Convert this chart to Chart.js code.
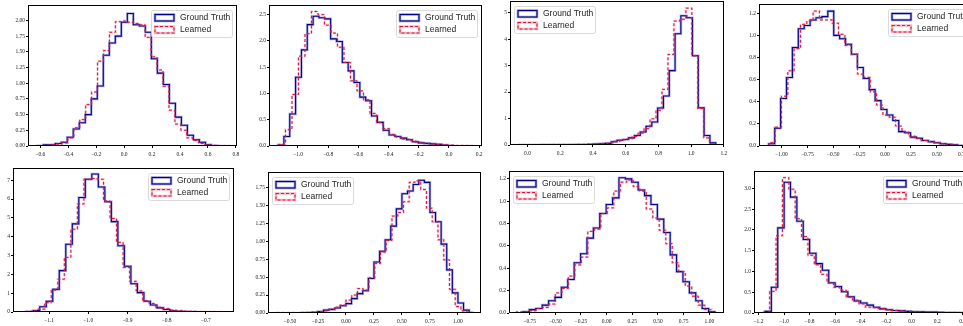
<!DOCTYPE html>
<html>
<head>
<meta charset="utf-8">
<script src="https://cdn.jsdelivr.net/npm/chart.js@4"></script>
<style>
  html, body { margin: 0; padding: 0; background: #fff; width: 963px; height: 326px; overflow: hidden; }
  canvas { position: absolute; }
</style>
</head>
<body>
<canvas id="c1" width="231" height="156" style="left:12px;top:2px"></canvas>
<canvas id="c2" width="235" height="156" style="left:253px;top:2px"></canvas>
<canvas id="c3" width="236" height="159" style="left:494px;top:-2px"></canvas>
<canvas id="c4" width="237" height="157" style="left:743px;top:1px"></canvas>
<canvas id="c5" width="243" height="159" style="left:-3px;top:165px"></canvas>
<canvas id="c6" width="235" height="156" style="left:252px;top:169px"></canvas>
<canvas id="c7" width="237" height="157" style="left:493px;top:168px"></canvas>
<canvas id="c8" width="237" height="157" style="left:738px;top:168px"></canvas>
<script>
// histogram data: [first edge, last edge] and bin heights (equal-width bins)
const gtRange1 = [-0.622, 0.668];
const gtVals1 = [0.005,0.02,0.02,0.04,0.06,0.14,0.27,0.37,0.50,0.75,0.955,1.445,1.64,1.75,1.97,2.11,1.93,1.91,1.81,1.39,1.16,0.98,0.68,0.46,0.33,0.17,0.10,0.06,0.02,0.005];
const lrRange1 = [-0.616, 0.747];
const lrVals1 = [0.0,0.01,0.02,0.03,0.05,0.13,0.29,0.42,0.66,0.86,1.35,1.52,1.81,1.98,1.99,1.97,1.95,1.93,1.73,1.42,1.21,0.95,0.57,0.35,0.25,0.13,0.09,0.04,0.02,0.01,0.005,0.003];

const gtRange2 = [-1.132, 0.029];
const gtVals2 = [0.02,0.18,0.61,1.31,1.83,2.31,2.47,2.44,2.42,2.04,1.99,1.59,1.43,1.21,0.93,0.86,0.57,0.45,0.30,0.21,0.18,0.15,0.12,0.08,0.06,0.05,0.04,0.03,0.02,0.01];
const lrRange2 = [-1.126, 0.166];
const lrVals2 = [0.03,0.31,0.98,1.71,2.14,2.56,2.50,2.30,2.15,1.88,1.59,1.24,1.05,0.88,0.62,0.45,0.33,0.22,0.17,0.13,0.10,0.07,0.05,0.04,0.03,0.02,0.015,0.01,0.01,0.005];

const gtRange3 = [-0.057, 1.150];
const gtVals3 = [0,0,0,0,0.005,0.005,0.005,0.01,0.01,0.01,0.015,0.02,0.03,0.04,0.05,0.06,0.12,0.18,0.21,0.27,0.36,0.49,0.71,0.87,1.40,1.85,2.81,4.20,4.88,4.81,3.37,1.41,0.36,0.08];
const lrRange3 = [-0.091, 1.150];
const lrVals3 = [0,0,0,0,0.005,0.005,0.005,0.01,0.01,0.01,0.015,0.02,0.025,0.03,0.04,0.06,0.08,0.14,0.20,0.23,0.32,0.45,0.62,0.99,1.31,2.10,3.42,4.68,4.75,5.17,3.37,1.38,0.27,0.03];

const gtRange4 = [-1.122, 0.816];
const gtVals4 = [0.02,0.16,0.43,0.62,0.89,1.06,1.09,1.14,1.16,1.17,1.22,1.00,0.97,0.92,0.83,0.71,0.61,0.51,0.41,0.33,0.28,0.23,0.13,0.12,0.08,0.07,0.05,0.04,0.03,0.02,0.015,0.01,0.005,0.003];
const lrRange4 = [-1.122, 0.836];
const lrVals4 = [0.03,0.17,0.45,0.68,0.88,1.10,1.13,1.22,1.14,1.14,1.11,1.01,0.91,0.83,0.65,0.62,0.49,0.37,0.28,0.26,0.18,0.13,0.09,0.07,0.05,0.04,0.03,0.02,0.01,0.005,0.003,0.002];

const gtRange5 = [-1.157, -0.725];
const gtVals5 = [0.02,0.08,0.28,0.57,1.20,2.20,3.60,4.68,6.08,7.05,7.33,6.64,5.86,4.80,3.52,2.43,1.50,1.03,0.57,0.37,0.22,0.13,0.07,0.04,0.02,0.01];
const lrRange5 = [-1.161, -0.661];
const lrVals5 = [0.02,0.06,0.15,0.50,1.17,1.74,2.90,4.40,5.74,7.05,7.09,7.05,5.90,4.97,3.70,2.37,1.63,1.12,0.60,0.45,0.25,0.18,0.10,0.07,0.04,0.03,0.02,0.01,0.01,0.005];

const gtRange6 = [-0.40, 1.10];
const gtVals6 = [0.003,0.005,0.01,0.02,0.04,0.05,0.07,0.10,0.13,0.20,0.27,0.31,0.48,0.71,0.86,1.02,1.21,1.45,1.66,1.70,1.79,1.85,1.82,1.40,1.27,0.96,0.60,0.28,0.14,0.04];
const lrRange6 = [-0.616, 1.130];
const lrVals6 = [0.003,0.003,0.003,0.0,0.003,0.005,0.01,0.02,0.03,0.05,0.08,0.11,0.18,0.25,0.34,0.32,0.49,0.69,0.85,1.01,1.35,1.40,1.55,1.82,1.84,1.72,1.46,1.27,1.02,0.74,0.33,0.09,0.03,0.01];

const gtRange7 = [-0.815, 1.055];
const gtVals7 = [0.01,0.03,0.04,0.07,0.11,0.14,0.23,0.30,0.45,0.53,0.67,0.76,0.89,0.97,1.03,1.21,1.20,1.17,1.10,1.05,0.97,0.84,0.72,0.52,0.37,0.28,0.18,0.11,0.04,0.01];
const lrRange7 = [-0.880, 1.019];
const lrVals7 = [0.01,0.01,0.02,0.04,0.05,0.08,0.18,0.22,0.33,0.43,0.50,0.73,0.75,0.89,0.94,1.09,1.17,1.19,1.13,1.09,0.93,0.85,0.74,0.62,0.45,0.37,0.24,0.15,0.07,0.03];

const gtRange8 = [-1.149, 0.399];
const gtVals8 = [0.04,0.62,2.05,3.15,2.79,2.21,1.77,1.44,1.19,1.03,0.73,0.64,0.51,0.39,0.29,0.24,0.19,0.14,0.10,0.08,0.06,0.05,0.04,0.03,0.03,0.02,0.02,0.015,0.01,0.01,0.005];
const lrRange8 = [-1.162, 0.386];
const lrVals8 = [0.02,0.52,1.86,3.26,2.98,2.27,1.84,1.39,1.16,0.93,0.72,0.62,0.55,0.38,0.31,0.22,0.14,0.13,0.11,0.08,0.06,0.05,0.03,0.03,0.02,0.02,0.015,0.01,0.01,0.005,0.005];

const seriesNames = ['Ground Truth', 'Learned'];

// axis limits, tick step and decimals for each panel
const panels = [
  { id: 'c1', gt: [gtRange1, gtVals1], lr: [lrRange1, lrVals1], x: [-0.688, 0.808, 0.2, 1], y: [2.245, 0.25, 2], leg: 'right' },
  { id: 'c2', gt: [gtRange2, gtVals2], lr: [lrRange2, lrVals2], x: [-1.192, 0.219, 0.2, 1], y: [2.684, 0.5, 1], leg: 'right' },
  { id: 'c3', gt: [gtRange3, gtVals3], lr: [lrRange3, lrVals3], x: [-0.107, 1.2005, 0.2, 1], y: [5.44, 1, 0], leg: 'left' },
  { id: 'c4', gt: [gtRange4, gtVals4], lr: [lrRange4, lrVals4], x: [-1.216, 0.858, 0.25, 2], y: [1.284, 0.2, 1], leg: 'right' },
  { id: 'c5', gt: [gtRange5, gtVals5], lr: [lrRange5, lrVals5], x: [-1.192, -0.628, 0.1, 1], y: [7.65, 1, 0], leg: 'right' },
  { id: 'c6', gt: [gtRange6, gtVals6], lr: [lrRange6, lrVals6], x: [-0.696, 1.206, 0.25, 2], y: [1.964, 0.25, 2], leg: 'left' },
  { id: 'c7', gt: [gtRange7, gtVals7], lr: [lrRange7, lrVals7], x: [-0.951, 1.143, 0.25, 2], y: [1.27, 0.2, 1], leg: 'left' },
  { id: 'c8', gt: [gtRange8, gtVals8], lr: [lrRange8, lrVals8], x: [-1.235, 0.449, 0.2, 1], y: [3.42, 0.5, 1], leg: 'right' }
];

const NAVY = '#00008b';
const CRIMSON = '#dc143c';

// outline of a step histogram, from its bin edges and heights
function stepPoints(range, vals) {
  const n = vals.length;
  const w = (range[1] - range[0]) / n;
  const pts = [{ x: range[0], y: 0 }];
  vals.forEach((v, i) => {
    pts.push({ x: range[0] + i * w, y: v });
    pts.push({ x: range[0] + (i + 1) * w, y: v });
  });
  pts.push({ x: range[1], y: 0 });
  return pts;
}

function fmt(v, d) {
  const s = Math.abs(v) < 1e-9 ? (0).toFixed(d) : v.toFixed(d);
  return s.replace('-', '\u2212');
}

// black frame round the plot, and a matplotlib-like legend box inside it
const framePlugin = {
  id: 'frameLegend',
  afterDraw(chart) {
    const ctx = chart.ctx;
    const a = chart.chartArea;
    ctx.save();
    ctx.strokeStyle = '#000';
    ctx.lineWidth = 1;
    ctx.strokeRect(a.left + 0.5, a.top + 0.5, a.right - a.left - 1, a.bottom - a.top - 1);

    const bw = 81, bh = 27;
    const side = chart.options.plugins.frameLegend.side;
    const bx = side === 'left' ? a.left + 4 : a.right - 5 - bw;
    const by = a.top + 5;
    ctx.fillStyle = 'rgba(255,255,255,0.85)';
    ctx.strokeStyle = '#d0d0d0';
    ctx.lineWidth = 0.8;
    ctx.beginPath();
    ctx.roundRect(bx + 0.5, by + 0.5, bw, bh, 2);
    ctx.fill();
    ctx.stroke();

    // Ground Truth patch
    ctx.strokeStyle = 'rgba(0,0,139,0.35)';
    ctx.lineWidth = 2.6;
    ctx.strokeRect(bx + 4, by + 4.5, 19, 6.5);
    ctx.strokeStyle = NAVY;
    ctx.lineWidth = 1.1;
    ctx.strokeRect(bx + 4, by + 4.5, 19, 6.5);
    // Learned patch
    ctx.strokeStyle = 'rgba(220,20,60,0.3)';
    ctx.lineWidth = 2.4;
    ctx.strokeRect(bx + 4, by + 16.5, 19, 6.5);
    ctx.setLineDash([3, 2]);
    ctx.strokeStyle = CRIMSON;
    ctx.lineWidth = 1.1;
    ctx.strokeRect(bx + 4, by + 16.5, 19, 6.5);
    ctx.setLineDash([]);

    ctx.fillStyle = '#222';
    ctx.font = '8.5px "Liberation Sans", Arial, sans-serif';
    ctx.textBaseline = 'middle';
    ctx.fillText(seriesNames[0], bx + 29, by + 8);
    ctx.fillText(seriesNames[1], bx + 29, by + 20);
    ctx.restore();
  }
};

const tickFont = { family: '"Liberation Serif", "DejaVu Serif", serif', size: 5.5 };

panels.forEach((p) => {
  new Chart(document.getElementById(p.id).getContext('2d'), {
    type: 'line',
    data: {
      datasets: [
        { label: seriesNames[0], data: stepPoints(p.gt[0], p.gt[1]), borderColor: 'rgba(40,40,180,0.35)', borderWidth: 2.6, order: 4 },
        { label: seriesNames[0], data: stepPoints(p.gt[0], p.gt[1]), borderColor: NAVY, borderWidth: 1.1, order: 3 },
        { label: seriesNames[1], data: stepPoints(p.lr[0], p.lr[1]), borderColor: 'rgba(230,60,100,0.3)', borderWidth: 2.4, borderDash: [3, 2], order: 2 },
        { label: seriesNames[1], data: stepPoints(p.lr[0], p.lr[1]), borderColor: CRIMSON, borderWidth: 1.0, borderDash: [3, 2], order: 1 }
      ]
    },
    options: {
      responsive: false,
      animation: false,
      events: [],
      layout: { padding: { top: 3, right: 6, left: 0, bottom: 0 } },
      elements: { point: { radius: 0 }, line: { tension: 0, fill: false } },
      plugins: {
        legend: { display: false },
        tooltip: { enabled: false },
        frameLegend: { side: p.leg }
      },
      scales: {
        x: {
          type: 'linear',
          min: p.x[0],
          max: p.x[1],
          grid: { display: true, drawOnChartArea: false, drawTicks: true, tickLength: 2, color: '#000' },
          border: { display: false },
          ticks: {
            stepSize: p.x[2],
            includeBounds: false,
            maxRotation: 0,
            autoSkip: false,
            padding: 3,
            color: '#222',
            font: tickFont,
            callback: (v) => fmt(v, p.x[3])
          },
          afterFit: (s) => { s.height = 12; s.paddingLeft = 0; s.paddingRight = 0; }
        },
        y: {
          type: 'linear',
          min: 0,
          max: p.y[0],
          grid: { display: true, drawOnChartArea: false, drawTicks: true, tickLength: 2, color: '#000' },
          border: { display: false },
          ticks: {
            stepSize: p.y[1],
            includeBounds: false,
            autoSkip: false,
            padding: 1,
            color: '#222',
            font: tickFont,
            callback: (v) => fmt(v, p.y[2])
          },
          afterFit: (s) => { s.width = 16; s.paddingTop = 0; s.paddingBottom = 0; }
        }
      }
    },
    plugins: [framePlugin]
  });
});
</script>
</body>
</html>
